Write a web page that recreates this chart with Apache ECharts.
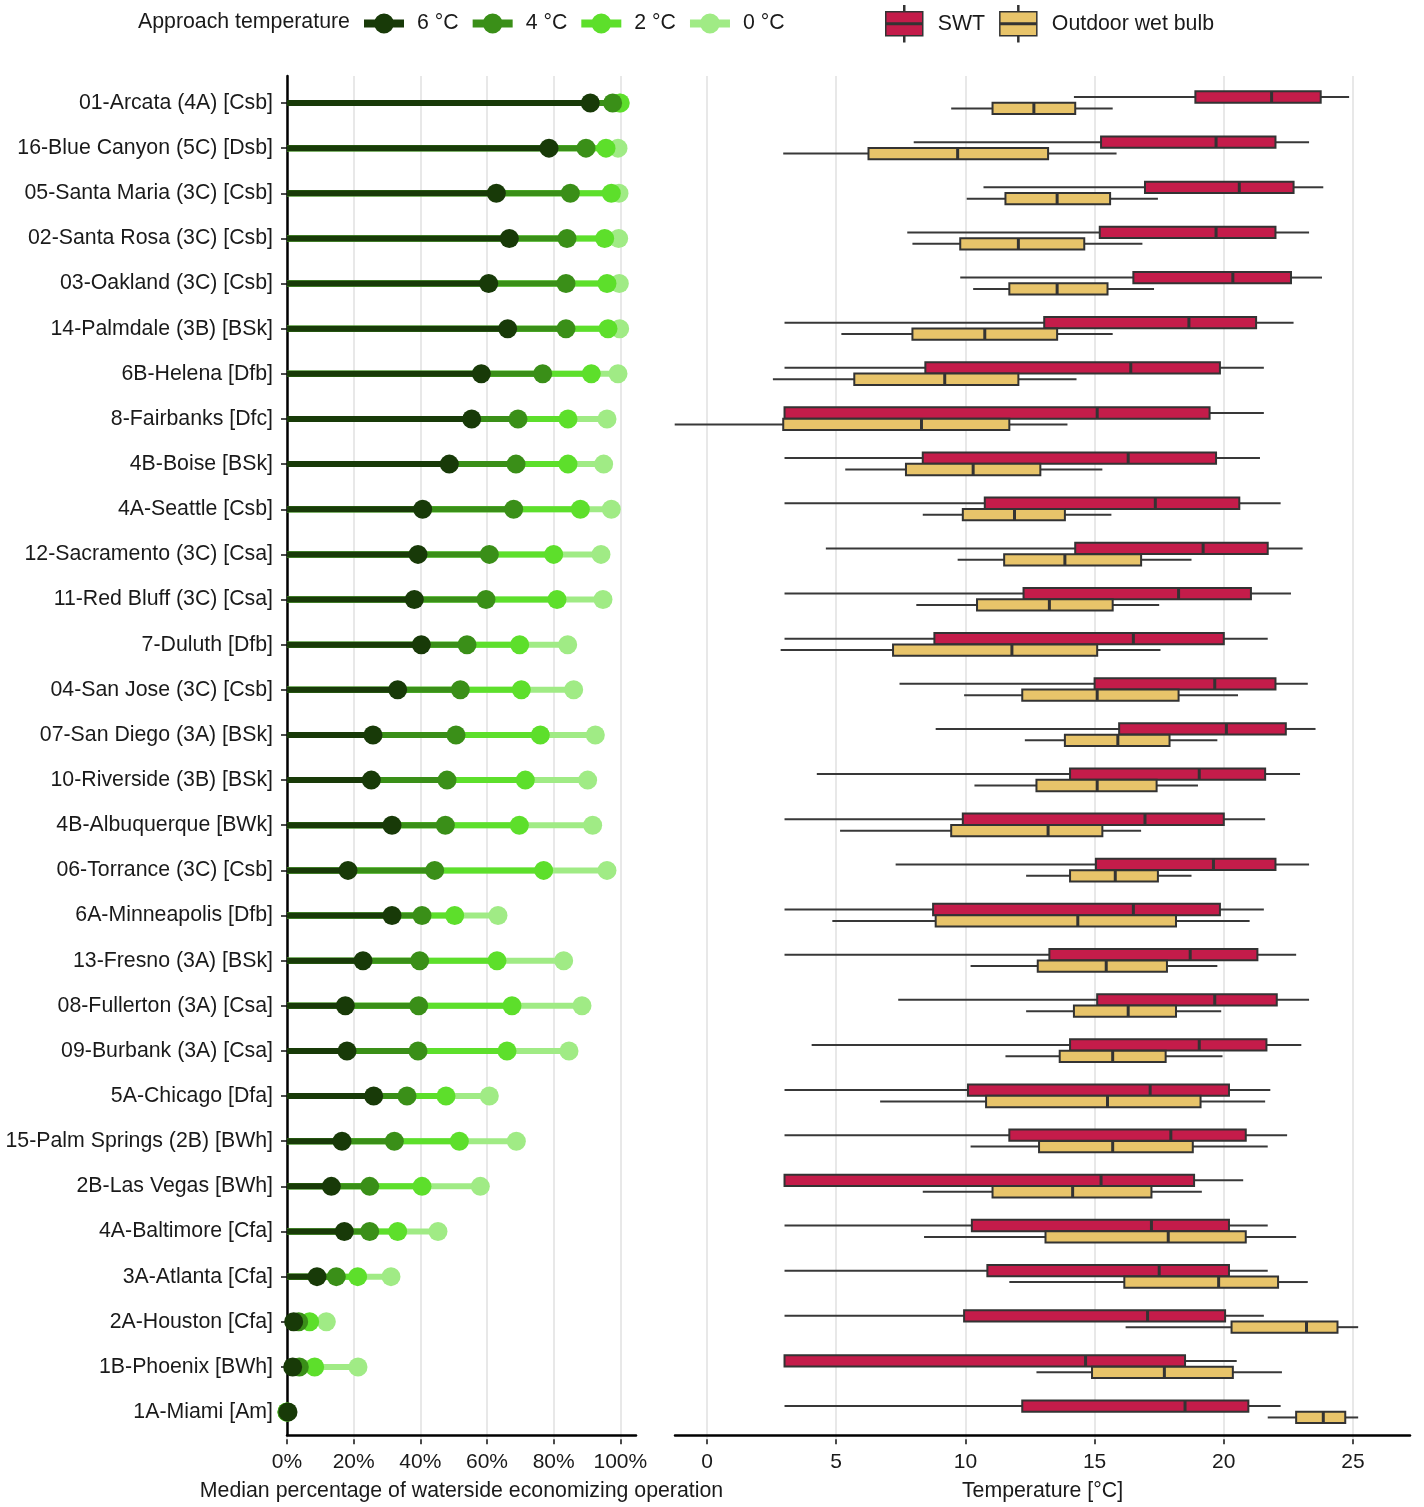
<!DOCTYPE html>
<html>
<head>
<meta charset="utf-8">
<script src="https://cdn.jsdelivr.net/npm/echarts@6/dist/echarts.min.js"></script>
<style>
  html, body { margin: 0; padding: 0; background: #ffffff; }
  #chart { width: 1424px; height: 1507px; }
</style>
</head>
<body>
<div id="chart"></div>
<script>
// Weather stations, top to bottom
const stations = [
  '01-Arcata (4A) [Csb]', '16-Blue Canyon (5C) [Dsb]', '05-Santa Maria (3C) [Csb]',
  '02-Santa Rosa (3C) [Csb]', '03-Oakland (3C) [Csb]', '14-Palmdale (3B) [BSk]',
  '6B-Helena [Dfb]', '8-Fairbanks [Dfc]', '4B-Boise [BSk]', '4A-Seattle [Csb]',
  '12-Sacramento (3C) [Csa]', '11-Red Bluff (3C) [Csa]', '7-Duluth [Dfb]',
  '04-San Jose (3C) [Csb]', '07-San Diego (3A) [BSk]', '10-Riverside (3B) [BSk]',
  '4B-Albuquerque [BWk]', '06-Torrance (3C) [Csb]', '6A-Minneapolis [Dfb]',
  '13-Fresno (3A) [BSk]', '08-Fullerton (3A) [Csa]', '09-Burbank (3A) [Csa]',
  '5A-Chicago [Dfa]', '15-Palm Springs (2B) [BWh]', '2B-Las Vegas [BWh]',
  '4A-Baltimore [Cfa]', '3A-Atlanta [Cfa]', '2A-Houston [Cfa]', '1B-Phoenix [BWh]',
  '1A-Miami [Am]'
];

// Median share of waterside economizing operation (%) per approach temperature
const approach6C = [91, 78.6, 62.8, 66.7, 60.5, 66.2, 58.3, 55.4, 48.7, 40.7, 39.3, 38.2, 40.3, 33.2, 25.8,
  25.3, 31.5, 18.3, 31.5, 22.8, 17.5, 18, 26, 16.5, 13.3, 17.2, 9, 2, 1.7, 0.3];
const approach4C = [97.7, 89.7, 85, 84, 83.7, 83.7, 76.7, 69.3, 68.7, 68, 60.7, 59.7, 54, 52, 50.7,
  48, 47.5, 44.3, 40.5, 39.8, 39.5, 39.3, 36, 32.2, 24.8, 24.8, 14.8, 3.5, 3.7, 0];
const approach2C = [99.9, 95.7, 97.3, 95.3, 96, 96.3, 91.3, 84.3, 84.3, 88, 80, 81, 69.8, 70.3, 76,
  71.5, 69.7, 77, 50.3, 63, 67.5, 66, 47.7, 51.7, 40.5, 33.2, 21.2, 6.8, 8.3, 0];
const approach0C = [100, 99.3, 99.6, 99.5, 99.7, 99.8, 99.3, 96, 95, 97.3, 94.2, 94.8, 84.2, 86, 92.5,
  90.2, 91.7, 96, 63.3, 83, 88.5, 84.6, 60.7, 68.8, 58, 45.3, 31.2, 11.8, 21.3, 0];

// Box statistics in °C: [lower whisker, Q1, median, Q3, upper whisker]
const swtStats = [
  [14.2, 18.9, 21.85, 23.75, 24.85], [8.0, 15.25, 19.7, 22.0, 23.3], [10.7, 16.95, 20.6, 22.7, 23.85],
  [7.75, 15.2, 19.7, 22.0, 23.3], [9.8, 16.5, 20.35, 22.6, 23.8], [3, 13.05, 18.65, 21.25, 22.7],
  [3, 8.45, 16.4, 19.85, 21.55], [3, 3, 15.1, 19.45, 21.55], [3, 8.35, 16.3, 19.7, 21.4],
  [3, 10.75, 17.35, 20.6, 22.2], [4.6, 14.25, 19.2, 21.7, 23.05], [3, 12.25, 18.25, 21.05, 22.6],
  [3, 8.8, 16.5, 20.0, 21.7], [7.45, 15.0, 19.65, 22.0, 23.25], [8.85, 15.95, 20.1, 22.4, 23.55],
  [4.25, 14.05, 19.05, 21.6, 22.95], [3, 9.9, 16.95, 20.0, 21.6], [7.3, 15.05, 19.6, 22.0, 23.3],
  [3, 8.75, 16.5, 19.85, 21.55], [3, 13.25, 18.7, 21.3, 22.8], [7.4, 15.1, 19.65, 22.05, 23.3],
  [4.05, 14.05, 19.05, 21.65, 23.0], [3, 10.1, 17.15, 20.2, 21.8], [3, 11.7, 17.95, 20.85, 22.45],
  [3, 3, 15.25, 18.85, 20.75], [3, 10.25, 17.2, 20.2, 21.7], [3, 10.85, 17.5, 20.2, 21.7],
  [3, 9.95, 17.05, 20.05, 21.55], [3, 3, 14.65, 18.5, 20.5], [3, 12.2, 18.5, 20.95, 22.2]
];
const wetBulbStats = [
  [9.45, 11.05, 12.65, 14.25, 15.7], [2.95, 6.25, 9.7, 13.2, 15.85], [10.05, 11.55, 13.55, 15.6, 17.45],
  [7.95, 9.8, 12.05, 14.6, 16.85], [10.3, 11.7, 13.55, 15.5, 17.3], [5.2, 7.95, 10.75, 13.55, 15.7],
  [2.55, 5.7, 9.2, 12.05, 14.3], [-1.25, 2.95, 8.3, 11.7, 13.95], [5.35, 7.7, 10.3, 12.9, 15.3],
  [8.35, 9.9, 11.9, 13.85, 15.65], [9.7, 11.5, 13.85, 16.8, 18.75], [8.1, 10.45, 13.25, 15.7, 17.5],
  [2.85, 7.2, 11.8, 15.1, 17.55], [9.95, 12.2, 15.1, 18.25, 20.55], [12.3, 13.85, 15.9, 17.9, 19.75],
  [10.35, 12.75, 15.1, 17.4, 19.0], [5.15, 9.45, 13.2, 15.3, 16.8], [12.35, 14.05, 15.8, 17.45, 18.75],
  [4.85, 8.85, 14.35, 18.15, 21.0], [10.2, 12.8, 15.45, 17.8, 19.75], [12.35, 14.2, 16.3, 18.15, 19.9],
  [11.55, 13.65, 15.7, 17.75, 19.95], [6.7, 10.8, 15.5, 19.1, 21.6], [10.2, 12.85, 15.7, 18.8, 21.7],
  [8.35, 11.05, 14.15, 17.2, 19.15], [8.4, 13.1, 17.85, 20.85, 22.8], [11.7, 16.15, 19.8, 22.1, 23.25],
  [16.2, 20.3, 23.2, 24.4, 25.2], [12.75, 14.9, 17.7, 20.35, 22.25], [21.7, 22.8, 23.85, 24.7, 25.2]
];

const approachNames = ['6 °C', '4 °C', '2 °C', '0 °C'];
const approachColors = ['#183a08', '#3a8f18', '#5ddf2b', '#a0eb85'];
const approachValues = [approach6C, approach4C, approach2C, approach0C];
const percentTicks = [0, 20, 40, 60, 80, 100];
const tempTicks = [0, 5, 10, 15, 20, 25];

const FONT = "'Liberation Sans', Arial, sans-serif";
const FS = 21.3;
const TICK_FS = 21;
const TEXT = '#1a1a1a';
const GRIDLINE = '#e8e8e8';
const SWT_COLOR = '#c41c4a';
const WB_COLOR = '#e8c46a';
const EDGE = '#333333';

// vertical frame shared by both panels
const ROW = 45.14;
const FIRST_ROW_Y = 103;
const dataTop = FIRST_ROW_Y - ROW / 2;
const dataHeight = ROW * stations.length;
const frameTop = FIRST_ROW_Y - 0.6 * ROW;
const frameHeight = ROW * (stations.length - 1 + 1.2);

// horizontal frames
const pctLeft = 287, pctPx = 3.3333, pctFrameWidth = 349;
const tLeft = 675, tZero = 707, tPx = 25.84, tFrameWidth = 735;

const chart = echarts.init(document.getElementById('chart'), null, { renderer: 'canvas' });

function stemRender(params, api) {
  const y = api.value(1);
  const a = api.coord([0, y]);
  const b = api.coord([api.value(0), y]);
  return {
    type: 'line',
    shape: { x1: a[0], y1: a[1], x2: b[0], y2: b[1] },
    style: { stroke: api.visual('color'), lineWidth: 6 }
  };
}

function boxRender(offset, fill) {
  return function (params, api) {
    const idx = api.value(0);
    const p = [1, 2, 3, 4, 5].map(function (d) { return api.coord([api.value(d), idx]); });
    const y = p[0][1] + offset;
    const h = 11.3;
    const whisker = { stroke: '#383838', lineWidth: 2 };
    return {
      type: 'group',
      children: [
        { type: 'line', shape: { x1: p[0][0], y1: y, x2: p[1][0], y2: y }, style: whisker },
        { type: 'line', shape: { x1: p[3][0], y1: y, x2: p[4][0], y2: y }, style: whisker },
        { type: 'rect', shape: { x: p[1][0], y: y - h / 2, width: p[3][0] - p[1][0], height: h },
          style: { fill: fill, stroke: EDGE, lineWidth: 2 } },
        { type: 'line', shape: { x1: p[2][0], y1: y - h / 2, x2: p[2][0], y2: y + h / 2 },
          style: { stroke: EDGE, lineWidth: 3 } }
      ]
    };
  };
}

const series = [];
// stems: lightest first so darker ones sit on top
for (let k = 3; k >= 0; k--) {
  series.push({
    type: 'custom', name: approachNames[k], xAxisIndex: 0, yAxisIndex: 0,
    itemStyle: { color: approachColors[k] },
    encode: { x: 0, y: 1 },
    renderItem: stemRender,
    data: approachValues[k].map(function (v, i) { return [v, i]; }),
    z: 3
  });
}
for (let k = 3; k >= 0; k--) {
  series.push({
    type: 'scatter', name: approachNames[k], xAxisIndex: 0, yAxisIndex: 0,
    symbol: 'circle', symbolSize: 19,
    itemStyle: { color: approachColors[k], opacity: 1 },
    data: approachValues[k].map(function (v, i) { return [v, i]; }),
    z: 4, clip: false
  });
}
series.push({
  type: 'custom', name: 'SWT', xAxisIndex: 3, yAxisIndex: 3,
  itemStyle: { color: SWT_COLOR },
  encode: { y: 0, x: [1, 2, 3, 4, 5] },
  renderItem: boxRender(-6.0, SWT_COLOR),
  data: swtStats.map(function (s, i) { return [i].concat(s); }),
  z: 3
});
series.push({
  type: 'custom', name: 'Outdoor wet bulb', xAxisIndex: 3, yAxisIndex: 3,
  itemStyle: { color: WB_COLOR },
  encode: { y: 0, x: [1, 2, 3, 4, 5] },
  renderItem: boxRender(5.4, WB_COLOR),
  data: wetBulbStats.map(function (s, i) { return [i].concat(s); }),
  z: 3
});

const lollipopIcon = 'path://M0,6L40,6L40,14L0,14Z M30,10A10,10 0 1,1 10,10A10,10 0 1,1 30,10Z';
const boxIcon = 'path://M0,6L37,6L37,17.2L0,17.2Z M0,18.8L37,18.8L37,30L0,30Z ' +
  'M18,0L19,0L19,6L18,6Z M18,30L19,30L19,36L18,36Z';

const hidden = { show: false };

const option = {
  backgroundColor: '#ffffff',
  animation: false,
  textStyle: { fontFamily: FONT },
  title: {
    text: 'Approach temperature', left: 138, top: 12, padding: 0,
    textStyle: { fontFamily: FONT, fontSize: FS, fontWeight: 'normal', color: TEXT }
  },
  legend: [
    {
      left: 364, top: 13, padding: 0, itemGap: 14, itemWidth: 40, itemHeight: 20,
      selectedMode: false,
      textStyle: { fontFamily: FONT, fontSize: FS, color: TEXT, padding: [0, 0, 0, 8] },
      data: approachNames.map(function (n, k) {
        return { name: n, icon: lollipopIcon, itemStyle: { color: approachColors[k], borderWidth: 0 } };
      })
    },
    {
      left: 885, top: 5, padding: 0, itemGap: 14, itemWidth: 37, itemHeight: 36,
      selectedMode: false,
      textStyle: { fontFamily: FONT, fontSize: FS, color: TEXT, padding: [0, 0, 0, 10] },
      data: [
        { name: 'SWT', icon: boxIcon, itemStyle: { color: SWT_COLOR, borderColor: EDGE, borderWidth: 1.5 } },
        { name: 'Outdoor wet bulb', icon: boxIcon, itemStyle: { color: WB_COLOR, borderColor: EDGE, borderWidth: 1.5 } }
      ]
    }
  ],
  grid: [
    { left: pctLeft, top: dataTop, width: pctFrameWidth, height: dataHeight },            // 0 lollipop data
    { left: pctLeft, top: frameTop, width: 100 * pctPx, height: frameHeight },            // 1 percent ticks
    { left: pctLeft, top: frameTop, width: pctFrameWidth, height: frameHeight },          // 2 left axis lines
    { left: tLeft, top: dataTop, width: tFrameWidth, height: dataHeight },                // 3 box data
    { left: tZero, top: frameTop, width: 25 * tPx, height: frameHeight },                 // 4 temperature ticks
    { left: tLeft, top: frameTop, width: tFrameWidth, height: frameHeight }               // 5 right axis line
  ],
  xAxis: [
    { gridIndex: 0, type: 'value', min: 0, max: pctFrameWidth / pctPx,
      axisLine: hidden, axisTick: hidden, axisLabel: hidden, splitLine: hidden },
    { gridIndex: 1, type: 'value', min: percentTicks[0], max: percentTicks[percentTicks.length - 1], interval: 20,
      axisLine: hidden,
      axisTick: { show: true, length: 5, lineStyle: { color: '#111', width: 1.5 } },
      axisLabel: { fontFamily: FONT, fontSize: TICK_FS, color: TEXT, margin: 13, formatter: '{value}%' },
      splitLine: { show: true, lineStyle: { color: GRIDLINE, width: 2 } } },
    { gridIndex: 2, type: 'value', min: 0, max: 1,
      axisLine: { show: true, onZero: false, lineStyle: { color: '#000', width: 2.5 } },
      axisTick: hidden, axisLabel: hidden, splitLine: hidden,
      name: 'Median percentage of waterside economizing operation', nameLocation: 'middle', nameGap: 46,
      nameTextStyle: { fontFamily: FONT, fontSize: FS, color: TEXT } },
    { gridIndex: 3, type: 'value', min: (tLeft - tZero) / tPx, max: (tLeft + tFrameWidth - tZero) / tPx,
      axisLine: hidden, axisTick: hidden, axisLabel: hidden, splitLine: hidden },
    { gridIndex: 4, type: 'value', min: tempTicks[0], max: tempTicks[tempTicks.length - 1], interval: 5,
      axisLine: hidden,
      axisTick: { show: true, length: 5, lineStyle: { color: '#111', width: 1.5 } },
      axisLabel: { fontFamily: FONT, fontSize: TICK_FS, color: TEXT, margin: 13 },
      splitLine: { show: true, lineStyle: { color: GRIDLINE, width: 2 } } },
    { gridIndex: 5, type: 'value', min: 0, max: 1,
      axisLine: { show: true, onZero: false, lineStyle: { color: '#000', width: 2.5 } },
      axisTick: hidden, axisLabel: hidden, splitLine: hidden,
      name: 'Temperature [°C]', nameLocation: 'middle', nameGap: 46,
      nameTextStyle: { fontFamily: FONT, fontSize: FS, color: TEXT } }
  ],
  yAxis: [
    { gridIndex: 0, type: 'category', data: stations, inverse: true,
      axisLine: hidden,
      axisTick: { show: true, alignWithLabel: true, length: 6, lineStyle: { color: '#111', width: 1.5 } },
      axisLabel: { fontFamily: FONT, fontSize: FS, color: TEXT, margin: 14, interval: 0, padding: [2, 0, 0, 0] },
      splitLine: hidden },
    { gridIndex: 1, type: 'value', show: false },
    { gridIndex: 2, type: 'value', min: 0, max: 1,
      axisLine: { show: true, onZero: false, lineStyle: { color: '#000', width: 2.5 } },
      axisTick: hidden, axisLabel: hidden, splitLine: hidden },
    { gridIndex: 3, type: 'category', data: stations, inverse: true, show: false },
    { gridIndex: 4, type: 'value', show: false },
    { gridIndex: 5, type: 'value', show: false }
  ],
  series: series
};

chart.setOption(option);
</script>
</body>
</html>
